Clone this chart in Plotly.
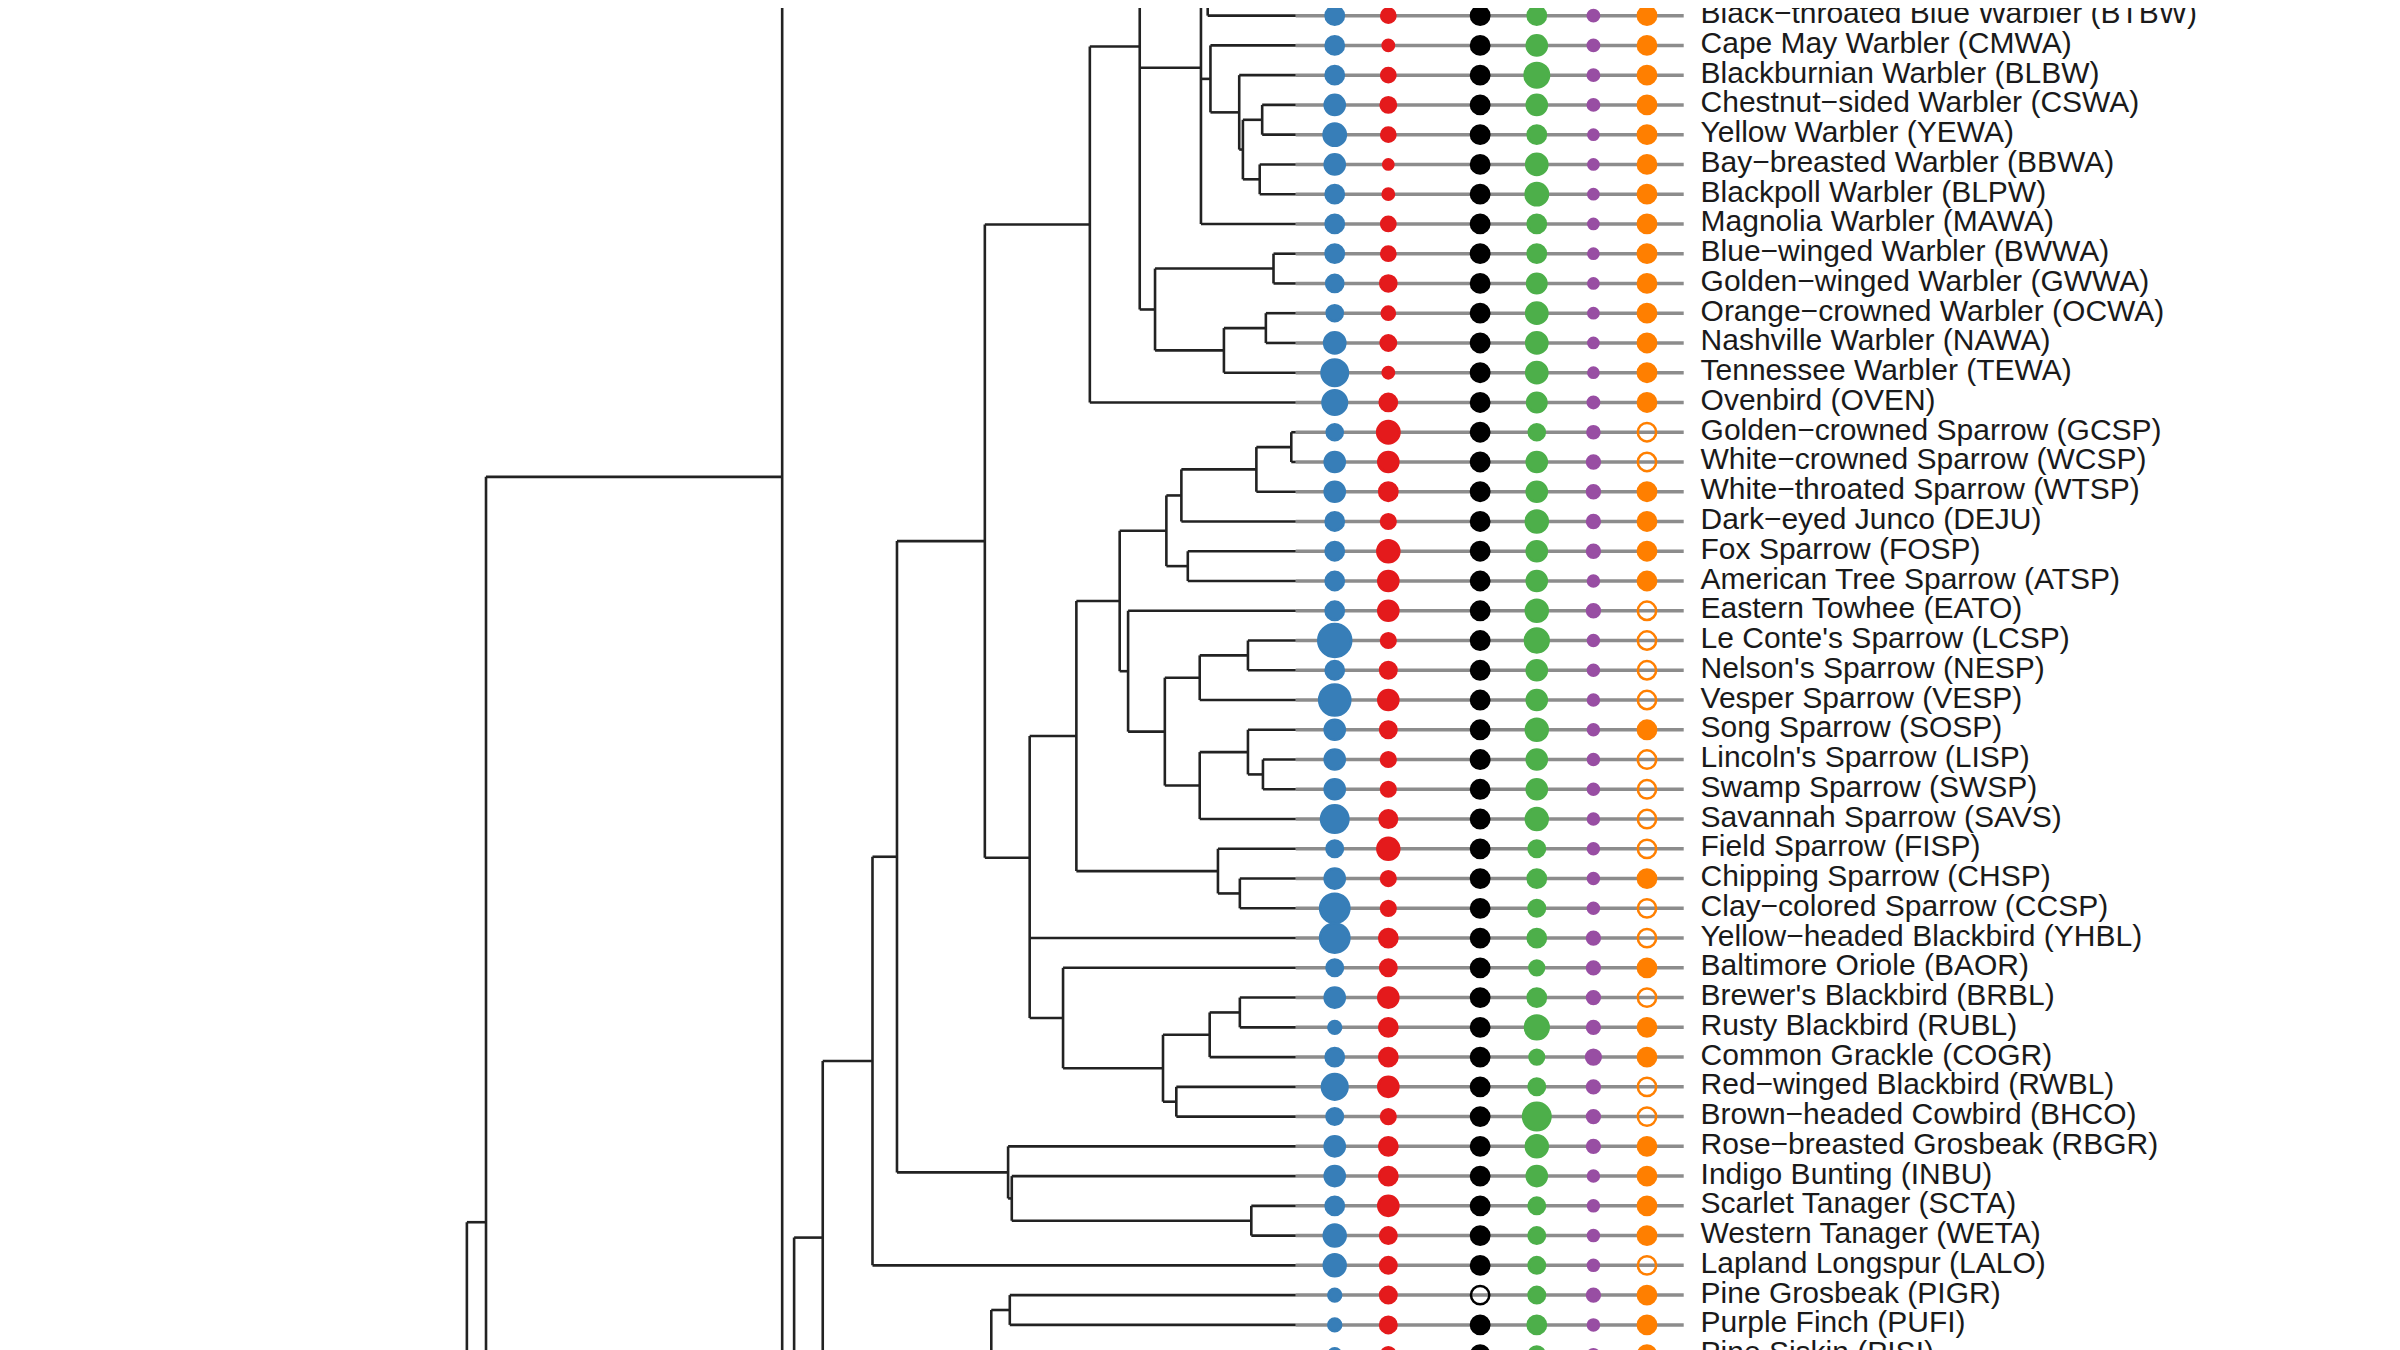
import plotly.graph_objects as go

# ---------------- data ----------------
species = ["Black−throated Blue Warbler (BTBW)", "Cape May Warbler (CMWA)", "Blackburnian Warbler (BLBW)",
           "Chestnut−sided Warbler (CSWA)", "Yellow Warbler (YEWA)", "Bay−breasted Warbler (BBWA)",
           "Blackpoll Warbler (BLPW)", "Magnolia Warbler (MAWA)", "Blue−winged Warbler (BWWA)",
           "Golden−winged Warbler (GWWA)", "Orange−crowned Warbler (OCWA)", "Nashville Warbler (NAWA)",
           "Tennessee Warbler (TEWA)", "Ovenbird (OVEN)", "Golden−crowned Sparrow (GCSP)",
           "White−crowned Sparrow (WCSP)", "White−throated Sparrow (WTSP)", "Dark−eyed Junco (DEJU)",
           "Fox Sparrow (FOSP)", "American Tree Sparrow (ATSP)", "Eastern Towhee (EATO)",
           "Le Conte's Sparrow (LCSP)", "Nelson's Sparrow (NESP)", "Vesper Sparrow (VESP)",
           "Song Sparrow (SOSP)", "Lincoln's Sparrow (LISP)", "Swamp Sparrow (SWSP)",
           "Savannah Sparrow (SAVS)", "Field Sparrow (FISP)", "Chipping Sparrow (CHSP)",
           "Clay−colored Sparrow (CCSP)", "Yellow−headed Blackbird (YHBL)", "Baltimore Oriole (BAOR)",
           "Brewer's Blackbird (BRBL)", "Rusty Blackbird (RUBL)", "Common Grackle (COGR)",
           "Red−winged Blackbird (RWBL)", "Brown−headed Cowbird (BHCO)", "Rose−breasted Grosbeak (RBGR)",
           "Indigo Bunting (INBU)", "Scarlet Tanager (SCTA)", "Western Tanager (WETA)",
           "Lapland Longspur (LALO)", "Pine Grosbeak (PIGR)", "Purple Finch (PUFI)", "Pine Siskin (PISI)"]
codes = [s.split("(")[-1].rstrip(")") for s in species]

trait_blue = [50,50,50,55,61,55,50,50,50,47,44,58,72,67,44, 55,55,50,50,50,50,90,50,85,55,55,55,75,45,55,
              80,80,45,55,35,50,70,45,55,55,50,60,60,35,35,35]
trait_red = [39,31,39,42,39,28,31,39,39,44,36,42,31,47,61, 55,50,40,60,55,55,40,45,55,45,40,40,48,60,40,
             40,50,45,55,50,50,55,40,50,50,55,45,45,45,45,40]
trait_black = [50]*46
trait_green = [50,55,67,55,50,58,61,50,50,53,58,58,58,53,44, 55,55,60,55,55,60,65,55,55,60,55,55,60,45,50,
               45,50,40,50,65,40,45,75,60,55,45,45,45,45,50,45]
trait_purple = [31,31,31,31,28,28,28,28,28,28,28,28,28,31,33, 35,35,35,35,30,35,30,30,30,30,30,30,30,30,30,
                30,35,35,35,35,40,35,35,35,30,30,30,30,35,30,30]
trait_orange = [50]*46
open_black = ["PIGR"]
open_orange = ["GCSP","WCSP","EATO","LCSP","NESP","VESP","LISP","SWSP","SAVS","FISP","CCSP","YHBL",
               "BRBL","RWBL","BHCO","LALO"]

# tree: internal node -> (depth x, children); leaves are codes; phantom leaves "ph_*" with rows
tip_x = 846.5
phantom_rows = {"ph_e": -7, "ph_f": -7.8, "ph_p2": 56, "ph_518": 60, "ph_511a": -37, "ph_511b": 68,
                "ph_317": 65.6, "ph_305": 90}
tree = {
    "n305": (305, ["n317", "ph_305"]),
    "n317": (317.5, ["n511", "ph_317"]),
    "n511": (511, ["ph_511a", "n518", "ph_511b"]),
    "n518": (518.8, ["n537", "ph_518"]),
    "n537": (537.5, ["n570", "nX"]),
    "nX": (647.6, ["nP1", "nP2"]),
    "nP1": (659.7, ["PIGR", "PUFI"]),
    "nP2": (660, ["PISI", "ph_p2"]),
    "n570": (570, ["n586", "LALO"]),
    "n586": (586, ["nL", "nN1"]),
    "nN1": (658.6, ["RBGR", "nN2"]),
    "nN2": (661, ["INBU", "nN3"]),
    "nN3": (817.5, ["SCTA", "WETA"]),
    "nL": (643.4, ["nK", "nM"]),
    "nK": (712, ["nF", "OVEN"]),
    "nF": (744.6, ["ph_f", "nD", "nG"]),
    "nD": (784.6, ["nE", "nC", "MAWA"]),
    "nE": (789, ["ph_e", "BTBW"]),
    "nC": (790.8, ["CMWA", "nB"]),
    "nB": (809.6, ["BLBW", "nA"]),
    "nA": (812, ["nCY", "nBB"]),
    "nCY": (824.6, ["CSWA", "YEWA"]),
    "nBB": (823, ["BBWA", "BLPW"]),
    "nG": (754.6, ["nH", "nI"]),
    "nH": (832, ["BWWA", "GWWA"]),
    "nI": (799.6, ["nJ", "TEWA"]),
    "nJ": (827, ["OCWA", "NAWA"]),
    "nM": (672.7, ["n703", "YHBL", "n694"]),
    "n703": (703.2, ["n731", "n795"]),
    "n731": (731.5, ["n762", "n737"]),
    "n762": (762, ["n771", "n776"]),
    "n771": (771.8, ["n820", "DEJU"]),
    "n820": (820.8, ["n843", "WTSP"]),
    "n843": (843.6, ["GCSP", "WCSP"]),
    "n776": (776, ["FOSP", "ATSP"]),
    "n737": (737, ["EATO", "n761"]),
    "n761": (761, ["n783a", "n783b"]),
    "n783a": (783.8, ["n815a", "VESP"]),
    "n815a": (815.3, ["LCSP", "NESP"]),
    "n783b": (783.8, ["n815b", "SAVS"]),
    "n815b": (815.3, ["SOSP", "n825"]),
    "n825": (825.1, ["LISP", "SWSP"]),
    "n795": (795.7, ["FISP", "n810"]),
    "n810": (810, ["CHSP", "CCSP"]),
    "n694": (694.5, ["BAOR", "n759"]),
    "n759": (759.8, ["n790", "n768"]),
    "n790": (790.3, ["n810b", "COGR"]),
    "n810b": (810, ["BRBL", "RUBL"]),
    "n768": (768.5, ["RWBL", "BHCO"]),
}
row_override = {"nM": 28.3}

# column positions (trait ladder) and label position, in the same horizontal units
col_x = [872, 907, 967, 1004, 1041, 1076]
ladder_end = 1100
label_x = 1111

# ---------------- layout computation ----------------
leaf_row = {c: i for i, c in enumerate(codes)}
leaf_row.update(phantom_rows)
node_row = {}

def get_row(n):
    if n in leaf_row:
        return leaf_row[n]
    if n in node_row:
        return node_row[n]
    ch = tree[n][1]
    r = (get_row(ch[0]) + get_row(ch[-1])) / 2
    r = row_override.get(n, r)
    node_row[n] = r
    return r

def get_x(n):
    return tree[n][0] if n in tree else tip_x

tx, ty = [], []
for n, (x, ch) in tree.items():
    rows_ = [get_row(c) for c in ch]
    tx += [x, x, None]; ty += [min(rows_), max(rows_), None]
    for c, r in zip(ch, rows_):
        tx += [x, get_x(c), None]; ty += [r, r, None]

fig = go.Figure()
gx, gy = [], []
for i in range(len(codes)):
    gx += [tip_x, ladder_end, None]; gy += [i, i, None]
fig.add_trace(go.Scatter(x=gx, y=gy, mode="lines", line=dict(color="#8c8c8c", width=3.5),
                         hoverinfo="skip", showlegend=False))
fig.add_trace(go.Scatter(x=tx, y=ty, mode="lines", line=dict(color="#222222", width=2.6),
                         hoverinfo="skip", showlegend=False))

colors = ["#377EB8", "#E41A1C", "#000000", "#4DAF4A", "#984EA3", "#FF7F00"]
traits = [trait_blue, trait_red, trait_black, trait_green, trait_purple, trait_orange]
opens = [[], [], open_black, [], [], open_orange]
rows = list(range(len(codes)))
for cx, col, vals, op in zip(col_x, colors, traits, opens):
    sizes = [v / 3 * 1.1 for v in vals]
    symbols = ["circle-open" if c in op else "circle" for c in codes]
    fig.add_trace(go.Scatter(x=[cx] * len(rows), y=rows, mode="markers",
                             marker=dict(color=col, size=sizes, symbol=symbols, opacity=1,
                                         line=dict(color=col, width=2.5)),
                             hoverinfo="skip", showlegend=False))

fig.add_trace(go.Scatter(x=[label_x] * len(rows), y=rows, mode="text", text=species,
                         textposition="middle right",
                         textfont=dict(family="Liberation Sans, Arial", size=30, color="#1a1a1a"),
                         hoverinfo="skip", showlegend=False))

row_px = 19.44
offx, offy = 5.2, 3.0  # compensates page margin (display units)
fig.update_layout(width=2400, height=1350, margin=dict(l=0, r=0, t=0, b=0),
                  plot_bgcolor="white", paper_bgcolor="white")
fig.update_xaxes(range=[offx, 1568 + offx], visible=False)
fig.update_yaxes(range=[(882 - 8 + offy) / row_px, (-8 + offy) / row_px], visible=False)
fig.write_html("out.html")
